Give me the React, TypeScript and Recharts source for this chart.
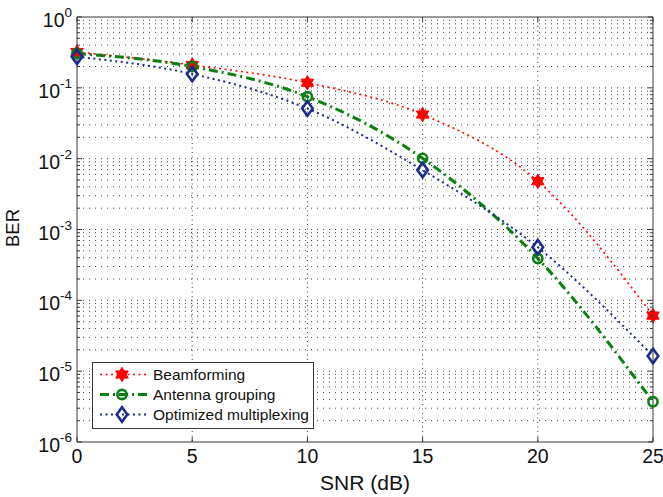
import React from 'react';
import { LineChart, Line, XAxis, YAxis, CartesianGrid, ReferenceArea, Legend, Label } from 'recharts';

// ---- data ----
const snr = [0, 5, 10, 15, 20, 25];
const beamforming = [0.32, 0.21, 0.118, 0.042, 0.0048, 6.1e-5];
const antennaGrouping = [0.305, 0.2, 0.075, 0.0101, 3.9e-4, 3.7e-6];
const optimizedMultiplexing = [0.275, 0.157, 0.051, 0.0069, 5.6e-4, 1.64e-5];

const xTicks = [0, 5, 10, 15, 20, 25];
const decades = [1e-6, 1e-5, 1e-4, 1e-3, 1e-2, 1e-1, 1];
const minorMultipliers = [2, 3, 4, 5, 6, 7, 8, 9];

const seriesNames = ['Beamforming', 'Antenna grouping', 'Optimized multiplexing'];

const rows = snr.map((s, i) => ({
  snr: s,
  bf: beamforming[i],
  ag: antennaGrouping[i],
  om: optimizedMultiplexing[i],
}));

const yTicksAll: number[] = [];
decades.forEach((d, i) => {
  yTicksAll.push(d);
  if (i < decades.length - 1) minorMultipliers.forEach((m) => yTicksAll.push(d * m));
});
const gridY = yTicksAll.filter((v) => v > 1e-6 && v < 1);
const gridX = [5, 10, 15, 20];

// ---- layout / style ----
const W = 663;
const H = 497;
const PLOT = { left: 77, right: 653, top: 17, bottom: 442 };
const FONT = '"Liberation Sans", Arial, Helvetica, sans-serif';
const AXIS = '#3a3a3a';
const RED = '#ff0000';
const GREEN = '#0b7f12';
const BLUE = '#1c2c8c';

const hexPoints = (cx: number, cy: number, r: number, rot: number) =>
  [0, 1, 2]
    .map((k) => {
      const a = ((rot + k * 120) * Math.PI) / 180;
      return `${cx + r * Math.cos(a)},${cy + r * Math.sin(a)}`;
    })
    .join(' ');

const Hexagram = ({ cx, cy }: any) => {
  if (cx == null || cy == null) return null;
  return (
    <g>
      <polygon points={hexPoints(cx, cy, 7.2, -90)} fill={RED} stroke={RED} strokeWidth={1} />
      <polygon points={hexPoints(cx, cy, 7.2, 90)} fill={RED} stroke={RED} strokeWidth={1} />
    </g>
  );
};

const CircleMark = ({ cx, cy }: any) => {
  if (cx == null || cy == null) return null;
  return <circle cx={cx} cy={cy} r={4.6} fill="none" stroke={GREEN} strokeWidth={2.6} />;
};

const DiamondMark = ({ cx, cy }: any) => {
  if (cx == null || cy == null) return null;
  const w = 5.3;
  const h = 7.3;
  return (
    <polygon
      points={`${cx},${cy - h} ${cx + w},${cy} ${cx},${cy + h} ${cx - w},${cy}`}
      fill="none"
      stroke={BLUE}
      strokeWidth={2.6}
    />
  );
};

const XTick = ({ x, y, payload }: any) => {
  return (
    <g>
      <line x1={x} x2={x} y1={PLOT.bottom} y2={PLOT.bottom - 5} stroke={AXIS} strokeWidth={1} />
      <line x1={x} x2={x} y1={PLOT.top} y2={PLOT.top + 5} stroke={AXIS} strokeWidth={1} />
      <text x={x} y={y + 21} textAnchor="middle" fontFamily={FONT} fontSize={19.5} fill="#111">
        {payload.value}
      </text>
    </g>
  );
};

const YTick = ({ x, y, payload }: any) => {
  const v = payload.value as number;
  const lg = Math.log10(v);
  const e = Math.round(lg);
  const major = Math.abs(lg - e) < 1e-6;
  const len = major ? 5 : 3;
  return (
    <g>
      <line x1={PLOT.left} x2={PLOT.left + len} y1={y} y2={y} stroke={AXIS} strokeWidth={1} />
      <line x1={PLOT.right} x2={PLOT.right - len} y1={y} y2={y} stroke={AXIS} strokeWidth={1} />
      {major && (
        <text x={x - 5} y={y + 10} textAnchor="end" fontFamily={FONT} fontSize={19.5} fill="#111">
          10
          <tspan dy={-10} fontSize={13.5}>
            {String(e)}
          </tspan>
        </text>
      )}
    </g>
  );
};

const legendRows = [
  { name: seriesNames[0], color: RED, width: 1.6, dash: '2 3.5', marker: 'hex' },
  { name: seriesNames[1], color: GREEN, width: 3, dash: '9 4 2 4', marker: 'circle' },
  { name: seriesNames[2], color: BLUE, width: 2, dash: '2 3.5', marker: 'diamond' },
];

const LegendBox = () => (
  <svg width={222} height={67} style={{ display: 'block' }}>
    <rect x={0.5} y={0.5} width={221} height={66} fill="#fff" stroke={AXIS} strokeWidth={1} />
    {legendRows.map((r, i) => {
      const cy = 12.5 + i * 20;
      return (
        <g key={r.name}>
          <line x1={8} x2={55} y1={cy} y2={cy} stroke={r.color} strokeWidth={r.width} strokeDasharray={r.dash} />
          {r.marker === 'hex' && <Hexagram cx={30} cy={cy} />}
          {r.marker === 'circle' && <CircleMark cx={30} cy={cy} />}
          {r.marker === 'diamond' && <DiamondMark cx={30} cy={cy} />}
          <text x={61} y={cy + 5.5} fontFamily={FONT} fontSize={15.5} fill="#111">
            {r.name}
          </text>
        </g>
      );
    })}
  </svg>
);

export default function App() {
  return (
    <div style={{ position: 'absolute', left: 0, top: 0, width: W, height: H, background: '#fff' }}>
      <LineChart width={W} height={H} data={rows} margin={{ top: PLOT.top, right: W - PLOT.right, left: 0, bottom: 0 }}>
        <CartesianGrid
          vertical={false}
          horizontalValues={gridY}
          stroke="#444"
          strokeWidth={1}
          strokeDasharray="1 5"
          fill="none"
        />
        <CartesianGrid
          horizontal={false}
          verticalValues={gridX}
          stroke="#444"
          strokeWidth={1}
          strokeDasharray="1 3.5"
          fill="none"
        />
        <XAxis
          dataKey="snr"
          type="number"
          domain={[0, 25]}
          ticks={xTicks}
          interval={0}
          height={H - PLOT.bottom}
          tickSize={0}
          tickMargin={0}
          tickLine={false}
          axisLine={false}
          tick={<XTick />}
        >
          <Label
            content={() => (
              <text x={(PLOT.left + PLOT.right) / 2} y={490} textAnchor="middle" fontFamily={FONT} fontSize={21} fill="#111">
                SNR (dB)
              </text>
            )}
          />
        </XAxis>
        <YAxis
          type="number"
          scale="log"
          domain={[1e-6, 1]}
          allowDataOverflow
          ticks={yTicksAll}
          interval={0}
          width={PLOT.left}
          tickSize={0}
          tickMargin={0}
          tickLine={false}
          axisLine={false}
          tick={<YTick />}
        >
          <Label
            content={() => (
              <text
                x={19}
                y={228}
                textAnchor="middle"
                transform="rotate(-90 19 228)"
                fontFamily={FONT}
                fontSize={18.5}
                fill="#111"
              >
                BER
              </text>
            )}
          />
        </YAxis>
        <ReferenceArea x1={0} x2={25} y1={1e-6} y2={1} fill="none" fillOpacity={0} stroke={AXIS} strokeWidth={1} ifOverflow="visible" />
        <Line
          type="monotone"
          dataKey="bf"
          name={seriesNames[0]}
          stroke={RED}
          strokeWidth={1.6}
          strokeDasharray="2 3.5"
          dot={<Hexagram />}
          activeDot={false}
          isAnimationActive={false}
        />
        <Line
          type="monotone"
          dataKey="ag"
          name={seriesNames[1]}
          stroke={GREEN}
          strokeWidth={3}
          strokeDasharray="9 4 2 4"
          dot={<CircleMark />}
          activeDot={false}
          isAnimationActive={false}
        />
        <Line
          type="monotone"
          dataKey="om"
          name={seriesNames[2]}
          stroke={BLUE}
          strokeWidth={2}
          strokeDasharray="2 3.5"
          dot={<DiamondMark />}
          activeDot={false}
          isAnimationActive={false}
        />
        <Legend
          layout="vertical"
          align="center"
          verticalAlign="middle"
          content={() => <LegendBox />}
          wrapperStyle={{ position: 'absolute', left: 92, top: 362, width: 222, height: 67 }}
        />
      </LineChart>
    </div>
  );
}
